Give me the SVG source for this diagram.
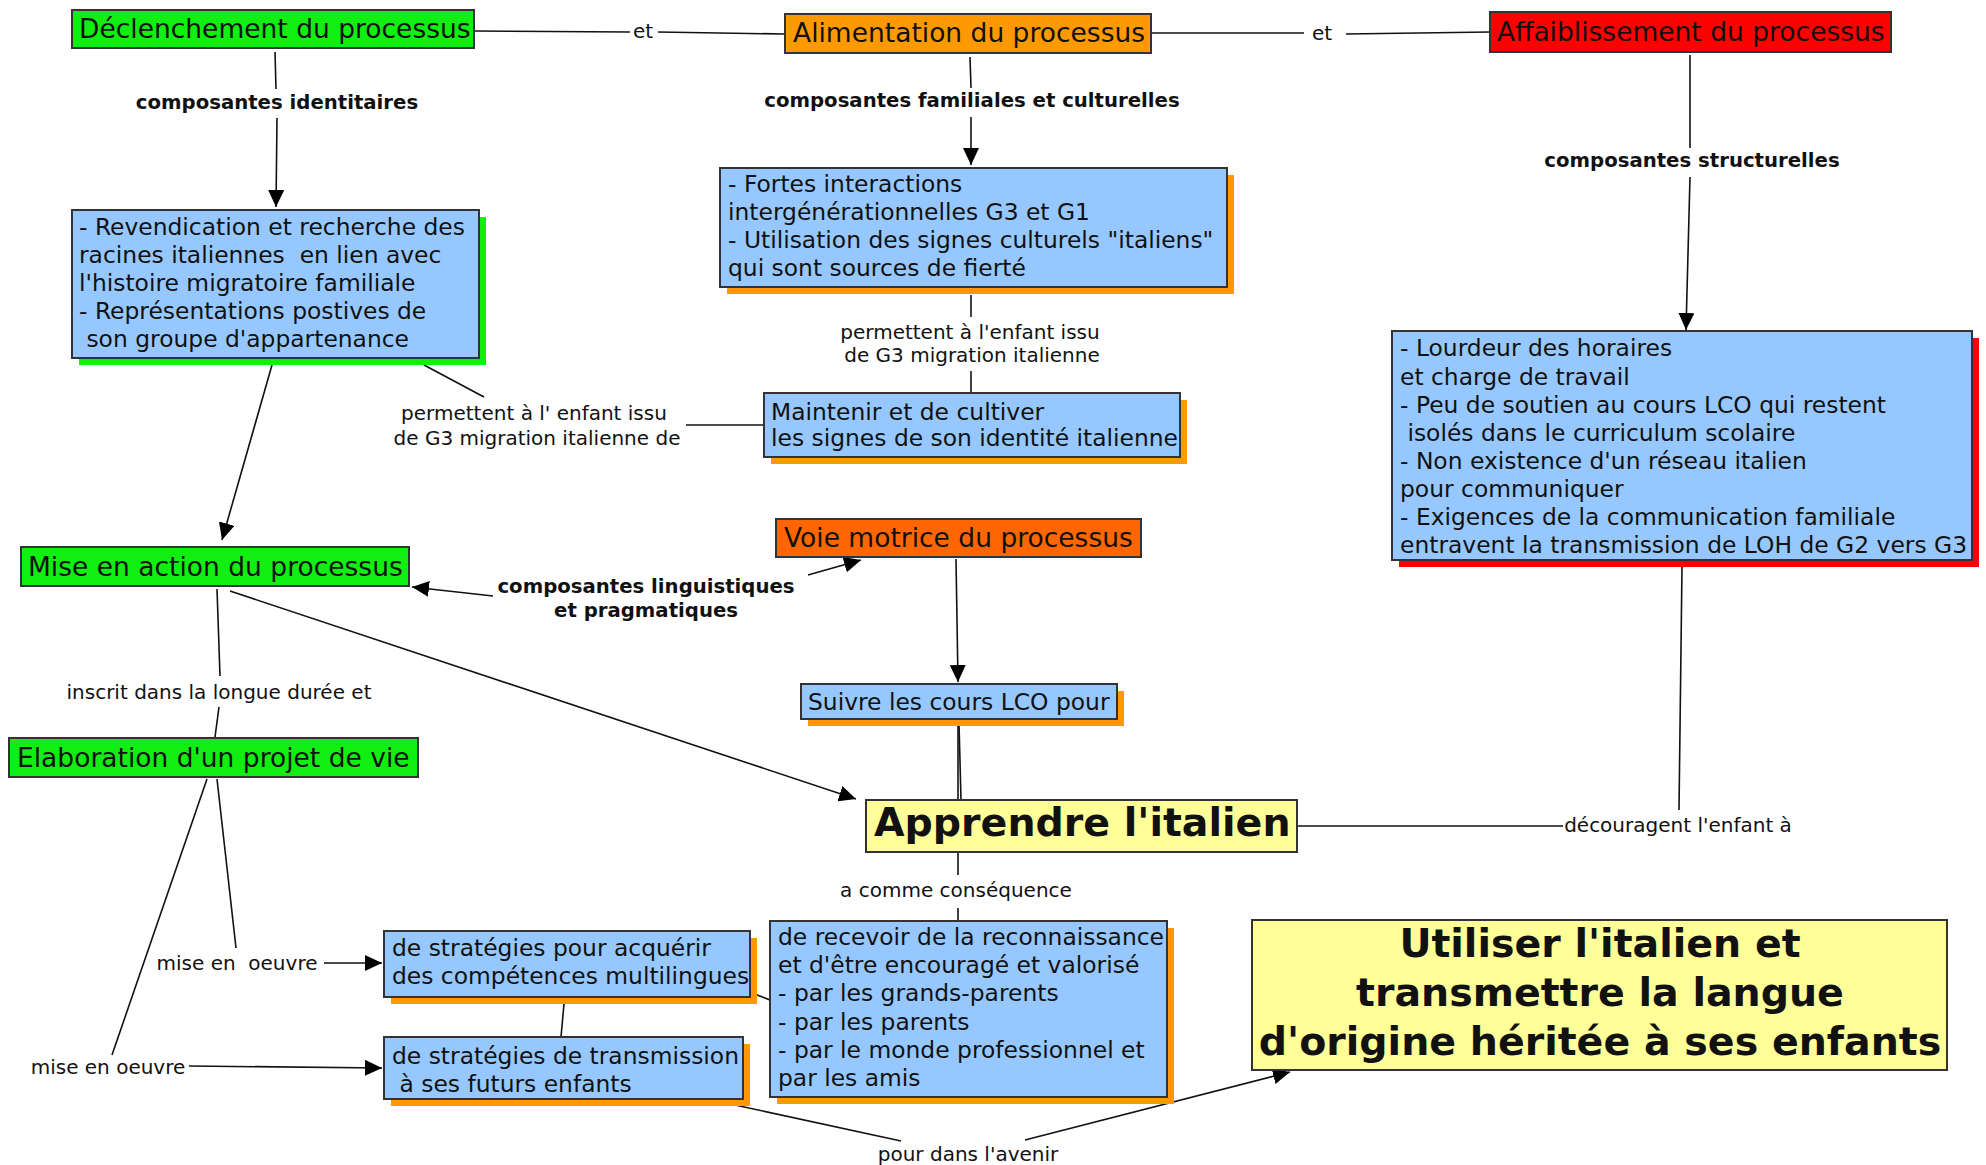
<svg xmlns="http://www.w3.org/2000/svg" width="1986" height="1165" viewBox="0 0 1986 1165">
<style>
.bg{fill:#ffffff}
.box{stroke:#333333;stroke-width:2}
.blue{fill:#96C8FF}
.green{fill:#11EE11}
.orange{fill:#FF9900}
.red{fill:#FF0000}
.voie{fill:#FF6600}
.yellow{fill:#FFFF99}
.sh-green{fill:#11EE11}
.sh-orange{fill:#FF9900}
.sh-red{fill:#FF0000}
text{font-family:"DejaVu Sans",Verdana,sans-serif;fill:#111111;white-space:pre}
.t{font-size:23.4px}
.title{font-size:26.5px}
.lab{font-size:20px}
.blab{font-size:19.7px;font-weight:bold}
.big{font-size:39.5px;font-weight:bold}
.mid{text-anchor:middle}
.conn line{stroke:#111111;stroke-width:1.6;fill:none}
</style>
<defs>
<marker id="arr" markerUnits="userSpaceOnUse" markerWidth="18" markerHeight="16" refX="17" refY="8" orient="auto">
<path d="M0,0 L17,8 L0,16 z" fill="#000000"/>
</marker>
</defs>
<rect class="bg" x="0" y="0" width="1986" height="1165"/>

<g id="connectors" class="conn">
<line x1="475" y1="31" x2="630" y2="32"/>
<line x1="658" y1="32" x2="784" y2="34"/>
<line x1="1152" y1="33" x2="1304" y2="33"/>
<line x1="1346" y1="34" x2="1490" y2="32"/>
<line x1="275" y1="52" x2="276" y2="89"/>
<line x1="277" y1="118" x2="276" y2="207" marker-end="url(#arr)"/>
<line x1="970" y1="57" x2="971" y2="88"/>
<line x1="971" y1="117" x2="971" y2="165" marker-end="url(#arr)"/>
<line x1="1690" y1="55" x2="1690" y2="148"/>
<line x1="1690" y1="177" x2="1686" y2="330" marker-end="url(#arr)"/>
<line x1="971" y1="295" x2="971" y2="317"/>
<line x1="971" y1="371" x2="971" y2="392"/>
<line x1="424" y1="365" x2="484" y2="397"/>
<line x1="686" y1="425" x2="763" y2="425"/>
<line x1="272" y1="365" x2="222" y2="540" marker-end="url(#arr)"/>
<line x1="493" y1="596" x2="412" y2="587" marker-end="url(#arr)"/>
<line x1="808" y1="575" x2="861" y2="560" marker-end="url(#arr)"/>
<line x1="956" y1="559" x2="958" y2="682" marker-end="url(#arr)"/>
<line x1="958" y1="723" x2="958" y2="800"/>
<line x1="959" y1="723" x2="961" y2="800"/>
<line x1="230" y1="591" x2="856" y2="799" marker-end="url(#arr)"/>
<line x1="217" y1="589" x2="220" y2="676"/>
<line x1="219" y1="707" x2="215" y2="737"/>
<line x1="217" y1="779" x2="236" y2="948"/>
<line x1="324" y1="963" x2="382" y2="963" marker-end="url(#arr)"/>
<line x1="207" y1="779" x2="112" y2="1055"/>
<line x1="189" y1="1066" x2="382" y2="1068" marker-end="url(#arr)"/>
<line x1="564" y1="1004" x2="561" y2="1037"/>
<line x1="752" y1="993" x2="770" y2="1000"/>
<line x1="958" y1="853" x2="958" y2="875"/>
<line x1="958" y1="908" x2="958" y2="920"/>
<line x1="735" y1="1105" x2="901" y2="1141"/>
<line x1="1025" y1="1140" x2="1290" y2="1072" marker-end="url(#arr)"/>
<line x1="1682" y1="567" x2="1679" y2="810"/>
<line x1="1563" y1="826" x2="1298" y2="826"/>
</g>

<g id="labels">
<text class="lab mid" x="643" y="38">et</text>
<text class="lab mid" x="1322" y="40">et</text>
<text class="blab mid" x="277" y="109">composantes identitaires</text>
<text class="blab mid" x="972" y="107">composantes familiales et culturelles</text>
<text class="blab mid" x="1692" y="167">composantes structurelles</text>
<text class="lab mid" x="970" y="339">permettent à l'enfant issu</text>
<text class="lab mid" x="972" y="362">de G3 migration italienne</text>
<text class="lab mid" x="534" y="420">permettent à l' enfant issu</text>
<text class="lab mid" x="537" y="445">de G3 migration italienne de</text>
<text class="blab mid" x="646" y="593">composantes linguistiques</text>
<text class="blab mid" x="646" y="617">et pragmatiques</text>
<text class="lab mid" x="219" y="699">inscrit dans la longue durée et</text>
<text class="lab mid" x="237" y="970">mise en  oeuvre</text>
<text class="lab mid" x="108" y="1074">mise en oeuvre</text>
<text class="lab mid" x="956" y="897">a comme conséquence</text>
<text class="lab mid" x="1678" y="832">découragent l'enfant à</text>
<text class="lab mid" x="968" y="1161">pour dans l'avenir</text>
</g>

<g id="n-declenchement">
<rect class="box green" x="72" y="10" width="402" height="38"/>
<text class="title" x="79" y="38">Déclenchement du processus</text>
</g>
<g id="n-alimentation">
<rect class="box orange" x="785" y="14" width="366" height="39"/>
<text class="title" x="793" y="42">Alimentation du processus</text>
</g>
<g id="n-affaiblissement">
<rect class="box red" x="1490" y="12" width="401" height="40"/>
<text class="title" x="1497" y="41">Affaiblissement du processus</text>
</g>
<g id="n-revendication">
<rect class="sh-green" x="79" y="217" width="407" height="148"/>
<rect class="box blue" x="72" y="210" width="407" height="148"/>
<text class="t" x="79" y="235">- Revendication et recherche des</text>
<text class="t" x="79" y="263">racines italiennes  en lien avec</text>
<text class="t" x="79" y="291">l'histoire migratoire familiale</text>
<text class="t" x="79" y="319">- Représentations postives de</text>
<text class="t" x="79" y="347"> son groupe d'appartenance</text>
</g>
<g id="n-fortes">
<rect class="sh-orange" x="727" y="175" width="507" height="119"/>
<rect class="box blue" x="720" y="168" width="507" height="119"/>
<text class="t" x="728" y="192">- Fortes interactions</text>
<text class="t" x="728" y="220">intergénérationnelles G3 et G1</text>
<text class="t" x="728" y="248">- Utilisation des signes culturels "italiens"</text>
<text class="t" x="728" y="276">qui sont sources de fierté</text>
</g>
<g id="n-maintenir">
<rect class="sh-orange" x="771" y="400" width="416" height="64"/>
<rect class="box blue" x="764" y="393" width="416" height="64"/>
<text class="t" x="771" y="420">Maintenir et de cultiver</text>
<text class="t" x="771" y="446">les signes de son identité italienne</text>
</g>
<g id="n-lourdeur">
<rect class="sh-red" x="1399" y="338" width="580" height="229"/>
<rect class="box blue" x="1392" y="331" width="580" height="229"/>
<text class="t" x="1400" y="356">- Lourdeur des horaires</text>
<text class="t" x="1400" y="385">et charge de travail</text>
<text class="t" x="1400" y="413">- Peu de soutien au cours LCO qui restent</text>
<text class="t" x="1400" y="441"> isolés dans le curriculum scolaire</text>
<text class="t" x="1400" y="469">- Non existence d'un réseau italien</text>
<text class="t" x="1400" y="497">pour communiquer</text>
<text class="t" x="1400" y="525">- Exigences de la communication familiale</text>
<text class="t" x="1400" y="553">entravent la transmission de LOH de G2 vers G3</text>
</g>
<g id="n-mise-en-action">
<rect class="box green" x="21" y="547" width="388" height="39"/>
<text class="title" x="28" y="576">Mise en action du processus</text>
</g>
<g id="n-voie">
<rect class="box voie" x="776" y="519" width="365" height="38"/>
<text class="title" x="784" y="547">Voie motrice du processus</text>
</g>
<g id="n-suivre">
<rect class="sh-orange" x="808" y="691" width="316" height="35"/>
<rect class="box blue" x="801" y="684" width="316" height="35"/>
<text class="t" x="808" y="710">Suivre les cours LCO pour</text>
</g>
<g id="n-apprendre">
<rect class="box yellow" x="866" y="800" width="431" height="52"/>
<text class="big" x="874" y="836">Apprendre l'italien</text>
</g>
<g id="n-elaboration">
<rect class="box green" x="9" y="738" width="409" height="39"/>
<text class="title" x="17" y="767">Elaboration d'un projet de vie</text>
</g>
<g id="n-acquerir">
<rect class="sh-orange" x="391" y="938" width="366" height="66"/>
<rect class="box blue" x="384" y="931" width="366" height="66"/>
<text class="t" x="392" y="956">de stratégies pour acquérir</text>
<text class="t" x="392" y="984">des compétences multilingues</text>
</g>
<g id="n-transmission">
<rect class="sh-orange" x="391" y="1044" width="359" height="62"/>
<rect class="box blue" x="384" y="1037" width="359" height="62"/>
<text class="t" x="392" y="1064">de stratégies de transmission</text>
<text class="t" x="392" y="1092"> à ses futurs enfants</text>
</g>
<g id="n-recevoir">
<rect class="sh-orange" x="777" y="928" width="397" height="176"/>
<rect class="box blue" x="770" y="921" width="397" height="176"/>
<text class="t" x="778" y="945">de recevoir de la reconnaissance</text>
<text class="t" x="778" y="973">et d'être encouragé et valorisé</text>
<text class="t" x="778" y="1001">- par les grands-parents</text>
<text class="t" x="778" y="1030">- par les parents</text>
<text class="t" x="778" y="1058">- par le monde professionnel et</text>
<text class="t" x="778" y="1086">par les amis</text>
</g>
<g id="n-utiliser">
<rect class="box yellow" x="1252" y="920" width="695" height="150"/>
<text class="big mid" x="1600" y="957">Utiliser l'italien et</text>
<text class="big mid" x="1600" y="1006">transmettre la langue</text>
<text class="big mid" x="1600" y="1055">d'origine héritée à ses enfants</text>
</g>
</svg>
